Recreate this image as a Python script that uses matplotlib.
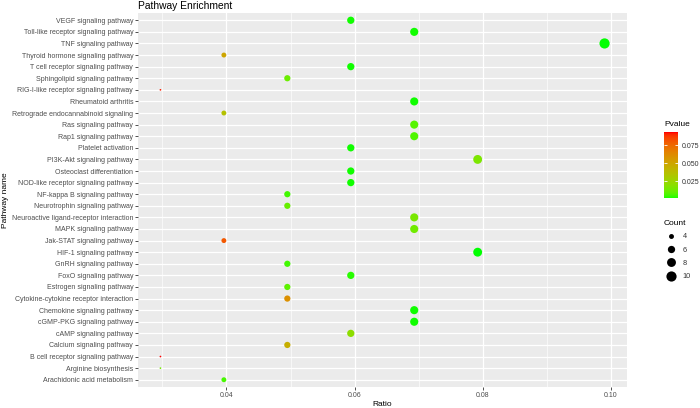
import numpy as np
import matplotlib
matplotlib.use("Agg")
import matplotlib.pyplot as plt
from matplotlib.colors import ListedColormap
from matplotlib.lines import Line2D

# pathways listed bottom -> top (ggplot alphabetical factor order)
pathways = [
    "Arachidonic acid metabolism", "Arginine biosynthesis", "B cell receptor signaling pathway",
    "Calcium signaling pathway", "cAMP signaling pathway", "cGMP-PKG signaling pathway",
    "Chemokine signaling pathway", "Cytokine-cytokine receptor interaction",
    "Estrogen signaling pathway", "FoxO signaling pathway", "GnRH signaling pathway",
    "HIF-1 signaling pathway", "Jak-STAT signaling pathway", "MAPK signaling pathway",
    "Neuroactive ligand-receptor interaction", "Neurotrophin signaling pathway",
    "NF-kappa B signaling pathway", "NOD-like receptor signaling pathway",
    "Osteoclast differentiation", "PI3K-Akt signaling pathway", "Platelet activation",
    "Rap1 signaling pathway", "Ras signaling pathway", "Retrograde endocannabinoid signaling",
    "Rheumatoid arthritis", "RIG-I-like receptor signaling pathway",
    "Sphingolipid signaling pathway", "T cell receptor signaling pathway",
    "Thyroid hormone signaling pathway", "TNF signaling pathway",
    "Toll-like receptor signaling pathway", "VEGF signaling pathway",
]
counts = [4, 3, 3, 5, 6, 7, 7, 5, 5, 6, 5, 8, 4, 7, 7, 5,
          5, 6, 6, 8, 6, 7, 7, 4, 7, 3, 5, 6, 4, 10, 7, 6]
ratios = [0.0396, 0.0297, 0.0297, 0.0495, 0.0594, 0.0693, 0.0693, 0.0495,
          0.0495, 0.0594, 0.0495, 0.0792, 0.0396, 0.0693, 0.0693, 0.0495,
          0.0495, 0.0594, 0.0594, 0.0792, 0.0594, 0.0693, 0.0693, 0.0396,
          0.0693, 0.0297, 0.0495, 0.0594, 0.0396, 0.0990, 0.0693, 0.0594]
pvalues = [0.006, 0.014, 0.093, 0.046, 0.021, 0.002, 0.002, 0.060,
           0.009, 0.003, 0.005, 0.0014, 0.080, 0.013, 0.015, 0.011,
           0.005, 0.002, 0.002, 0.016, 0.002, 0.007, 0.008, 0.036,
           0.002, 0.091, 0.012, 0.002, 0.050, 0.0015, 0.002, 0.002]
legend_counts = [4, 6, 8, 10]
cbar_ticks = [0.025, 0.050, 0.075]

DPI = 100
FONT = "Liberation Sans"
plt.rcParams["font.family"] = [FONT, "DejaVu Sans"]


def srgb_to_lab(rgb):
    c = np.asarray(rgb, float)
    lin = np.where(c <= 0.04045, c / 12.92, ((c + 0.055) / 1.055) ** 2.4)
    m = np.array([[0.4124, 0.3576, 0.1805], [0.2126, 0.7152, 0.0722], [0.0193, 0.1192, 0.9505]])
    xyz = m @ lin / np.array([0.95047, 1.0, 1.08883])
    f = np.where(xyz > 0.008856, np.cbrt(xyz), 7.787 * xyz + 16 / 116)
    return np.array([116 * f[1] - 16, 500 * (f[0] - f[1]), 200 * (f[1] - f[2])])


def lab_to_srgb(lab):
    L, a, b = lab
    fy = (L + 16) / 116
    f = np.array([fy + a / 500, fy, fy - b / 200])
    xyz = np.where(f ** 3 > 0.008856, f ** 3, (f - 16 / 116) / 7.787) * np.array([0.95047, 1.0, 1.08883])
    m_inv = np.array([[3.2406, -1.5372, -0.4986], [-0.9689, 1.8758, 0.0415], [0.0557, -0.2040, 1.0570]])
    lin = np.clip(m_inv @ xyz, 0, 1)
    c = np.where(lin <= 0.0031308, 12.92 * lin, 1.055 * lin ** (1 / 2.4) - 0.055)
    return np.clip(c, 0, 1)


# green -> red gradient interpolated in Lab like ggplot
lab_lo, lab_hi = srgb_to_lab([0, 1, 0]), srgb_to_lab([1, 0, 0])
cmap = ListedColormap([lab_to_srgb(lab_lo + t * (lab_hi - lab_lo)) for t in np.linspace(0, 1, 256)])


def diam_px(c):
    # ggplot scale_size (area) with range 1..6
    lo, hi = min(counts), max(counts)
    return 1.7 * (1 + 5 * np.sqrt((np.asarray(c, float) - lo) / (hi - lo)))


fig = plt.figure(figsize=(7.0, 4.08), dpi=DPI)
ax = fig.add_axes([138 / 700, 1 - 386.7 / 408, 489 / 700, 373.4 / 408])
ax.set_facecolor("#EBEBEB")
for s in ax.spines.values():
    s.set_visible(False)

ypos = np.arange(len(pathways))
pt = np.asarray(diam_px(counts)) * 72 / DPI
sc = ax.scatter(ratios, ypos, s=pt ** 2, c=pvalues, cmap=cmap,
                vmin=min(pvalues), vmax=max(pvalues), linewidths=0, zorder=3)

ax.set_xlim(0.0262, 0.1025)
ax.set_ylim(-0.6, len(pathways) - 0.4)
ax.set_xticks([0.04, 0.06, 0.08, 0.10])
ax.set_xticks([0.03, 0.05, 0.07, 0.09], minor=True)
ax.set_xticklabels(["0.04", "0.06", "0.08", "0.10"])
ax.set_yticks(ypos)
ax.set_yticklabels(pathways)
ax.grid(True, which="major", color="white", linewidth=0.9)
ax.grid(True, which="minor", axis="x", color="white", linewidth=0.45)
ax.set_axisbelow(True)
ax.tick_params(axis="both", which="major", length=2, width=0.6, color="#333333",
               labelsize=5, labelcolor="#4D4D4D", pad=1.5)
ax.tick_params(axis="x", which="minor", length=0)

ax.set_xlabel("Ratio", fontsize=6, labelpad=2)
fig.text(6 / 700, 1 - 200 / 408, "Pathway name", fontsize=6, rotation=90,
         ha="center", va="center")
ax.set_title("Pathway Enrichment", fontsize=7.4, loc="left", pad=3)

# colour bar
cax = fig.add_axes([664 / 700, 1 - 198.3 / 408, 14 / 700, 66 / 408])
cb = fig.colorbar(sc, cax=cax, ticks=cbar_ticks, format="%.3f")
cb.outline.set_visible(False)
cax.tick_params(which="major", left=True, right=True, direction="in", color="white",
                length=2.5, width=0.6, labelsize=5, labelcolor="#333333", pad=2.5)
fig.text(664 / 700, 1 - 124 / 408, "Pvalue", fontsize=6, va="center", ha="left")

# size legend
handles = [Line2D([], [], marker="o", ls="", color="black", markeredgewidth=0,
                  markersize=float(diam_px(c)) * 72 / DPI) for c in legend_counts]
leg = fig.legend(handles, [str(c) for c in legend_counts], title="Count", loc="upper left",
                 bbox_to_anchor=(660 / 700, 1 - 216 / 408), frameon=False, fontsize=5.3,
                 title_fontsize=6, labelspacing=0.85, handletextpad=0.6, borderpad=0,
                 handlelength=2.0, alignment="left")
for t in leg.get_texts():
    t.set_color("#333333")

fig.savefig("out.png", dpi=DPI)
